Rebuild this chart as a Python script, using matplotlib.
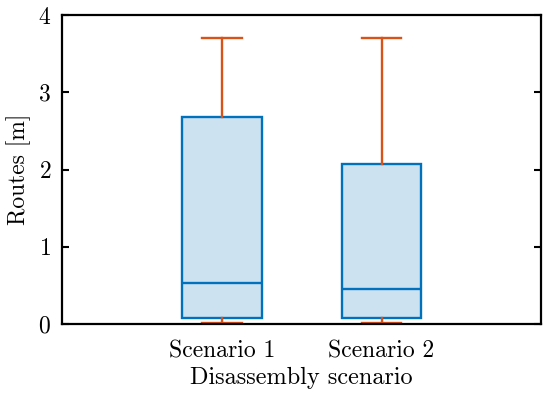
import matplotlib
matplotlib.use('Agg')
import matplotlib.pyplot as plt

plt.rcParams['font.family'] = 'serif'
plt.rcParams['font.serif'] = ['cmr10']
plt.rcParams['mathtext.fontset'] = 'cm'
plt.rcParams['axes.formatter.use_mathtext'] = True

# Box statistics
labels = ['Scenario 1', 'Scenario 2']
whislo = [0.015, 0.015]
q1 = [0.08, 0.08]
med = [0.53, 0.45]
q3 = [2.68, 2.07]
whishi = [3.70, 3.70]

blue = '#0072BD'
orange = '#D95319'
fill = '#CCE2F1'

stats = [dict(label=labels[i], whislo=whislo[i], q1=q1[i], med=med[i],
              q3=q3[i], whishi=whishi[i], fliers=[]) for i in range(len(labels))]

fig, ax = plt.subplots(figsize=(5.5, 3.97), dpi=100)
ax.bxp(stats, positions=[1, 2], widths=0.5, capwidths=0.25, showfliers=False,
       patch_artist=True,
       boxprops=dict(facecolor=fill, edgecolor=blue, linewidth=1.7),
       medianprops=dict(color=blue, linewidth=1.7),
       whiskerprops=dict(color=orange, linewidth=1.7),
       capprops=dict(color=orange, linewidth=1.7))

ax.set_xlim(0, 3)
ax.set_ylim(0, 4)
ax.set_yticks([0, 1, 2, 3, 4])
ax.set_xticks([1, 2])
ax.set_xticklabels(labels)
ax.set_xlabel('Disassembly scenario', fontsize=17.5, labelpad=3)
ax.set_ylabel('Routes [m]', fontsize=17, labelpad=5)
ax.tick_params(axis='both', direction='in', labelsize=17, width=1.5, length=5)
ax.tick_params(axis='y', right=True, pad=8)
ax.tick_params(axis='x', length=0, pad=12)
for s in ax.spines.values():
    s.set_linewidth(1.6)

fig.subplots_adjust(left=0.113, right=0.984, top=0.962, bottom=0.184)
fig.savefig('out.png')
